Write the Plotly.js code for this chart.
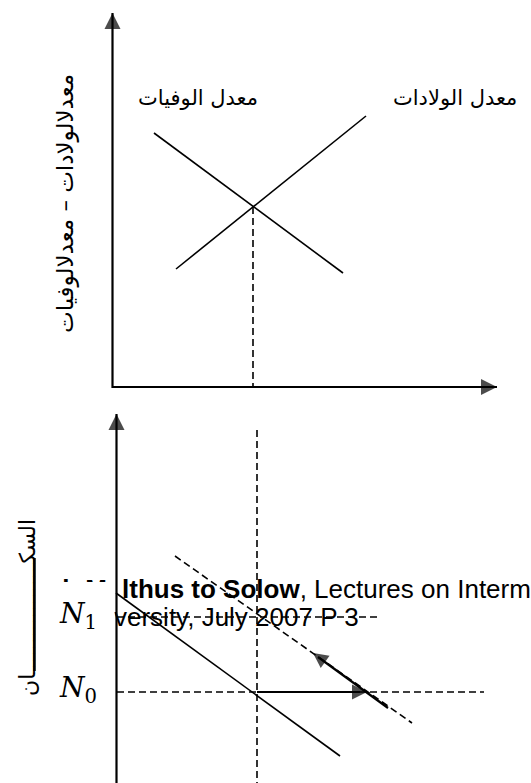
<!DOCTYPE html>
<html>
<head>
<meta charset="utf-8">
<script src="https://cdn.plot.ly/plotly-3.0.1.min.js"></script>
<style>html,body{margin:0;padding:0;background:#fff;}#chart{width:531px;height:783px;}</style>
</head>
<body>
<div id="chart"></div>
<script>
// ---- Data (diagram units on a 531 x 783 grid, y downwards) ----
// Upper panel: birth rate and death rate schedules
const topAxisX = [112.5, 112.5, 497];
const topAxisY = [13, 387, 387];
const deathRateX = [154, 343];
const deathRateY = [133, 273];
const birthRateX = [176, 366];
const birthRateY = [269, 116];
const equilibriumX = [253, 253];
const equilibriumY = [207, 387];

// Lower panel: population
const popAxisX = [116.5, 116.5];
const popAxisY = [414, 783];
const guideVX = [257, 257];
const guideVY = [430, 783];
const n0LineX = [117, 484];
const n0LineY = [692, 692];
const n1LineX = [117, 378];
const n1LineY = [617, 617];
const curveX = [116, 340];
const curveY = [593, 756];
const shiftedX = [175, 412];
const shiftedY = [556, 723];
const shiftArrowX = [257, 360];
const shiftArrowY = [692, 692];
const returnArrowX = [388, 318];
const returnArrowY = [708, 657];

// Arrow heads (tip positions)
const headX = [112.5, 497, 116.5, 497, 367, 313];
const headY = [13, 387, 414, 790, 692, 653];
const headAngle = [0, 90, 0, 90, 90, -54];
const headSize = [16, 16, 16, 16, 15, 15];

// Labels
const deathLabel = 'معدل الوفيات';
const birthLabel = 'معدل الولادات';
const topYTitle = 'معدلالولادات – معدلالوفيات';
const popTitle = 'السكـــــــــــــــــان';
const n1Label = '<i>N</i><sub>1</sub>';
const n0Label = '<i>N</i><sub>0</sub>';
const refLine1Hidden = '<b>h M</b>';
const refLine1 = '<b>lthus to Solow</b>, Lectures on Intermediate Macroeconomics';
const refLine2Hidden = 'Uni';
const refLine2 = 'versity, July 2007 P 3';

const solid = {color: '#000', width: 1.6};
const axisLine = {color: '#000', width: 2.2};
const dashed = {color: '#000', width: 1.6, dash: '7px,4px'};

function seg(x, y, line) {
  return {type: 'scatter', mode: 'lines', x: x, y: y, line: line, hoverinfo: 'skip'};
}
function txt(x, y, t, pos, size) {
  return {type: 'scatter', mode: 'text', x: [x], y: [y], text: [t], textposition: pos,
    textfont: {family: 'Liberation Sans, Arial, sans-serif', size: size, color: '#000'},
    cliponaxis: false, hoverinfo: 'skip'};
}

const traces = [
  // reference text (partly covered by the label box)
  txt(107, 591, refLine1Hidden, 'middle left', 26),
  txt(122, 591, refLine1, 'middle right', 26),
  txt(114, 619.5, refLine2Hidden, 'middle left', 26),
  txt(114, 619.5, refLine2, 'middle right', 26),
  // upper panel
  seg(topAxisX, topAxisY, axisLine),
  seg(deathRateX, deathRateY, solid),
  seg(birthRateX, birthRateY, solid),
  seg(equilibriumX, equilibriumY, dashed),
  // lower panel
  seg(popAxisX, popAxisY, axisLine),
  seg(guideVX, guideVY, dashed),
  seg(n0LineX, n0LineY, dashed),
  seg(n1LineX, n1LineY, dashed),
  seg(curveX, curveY, solid),
  seg(shiftedX, shiftedY, dashed),
  seg(shiftArrowX, shiftArrowY, {color: '#000', width: 2}),
  seg(returnArrowX, returnArrowY, {color: '#000', width: 2.2}),
  {type: 'scatter', mode: 'markers', x: headX, y: headY, cliponaxis: false, hoverinfo: 'skip',
   marker: {symbol: 'arrow-up', size: headSize, angle: headAngle, color: '#000', line: {width: 0}}}
];

const arabicFont = {family: 'DejaVu Sans, sans-serif', color: '#000'};

const layout = {
  width: 531, height: 783,
  margin: {l: 0, r: 0, t: 0, b: 0, pad: 0},
  paper_bgcolor: '#fff', plot_bgcolor: '#fff',
  showlegend: false,
  xaxis: {range: [0, 531], visible: false, fixedrange: true},
  yaxis: {range: [783, 0], visible: false, fixedrange: true},
  shapes: [
    // label box that covers the beginning of the reference lines
    {type: 'rect', layer: 'above', xref: 'x', yref: 'y', x0: 47, x1: 114.5, y0: 582, y1: 712,
     fillcolor: '#fff', line: {width: 0}},
    // stretched kashida stroke of the rotated population label
    {type: 'line', layer: 'below', xref: 'x', yref: 'y', x0: 34.5, x1: 34.5, y0: 558, y1: 671,
     line: {color: '#000', width: 2.4}}
  ],
  annotations: [
    {x: 198, y: 98, xref: 'x', yref: 'y', text: deathLabel, showarrow: false,
     font: Object.assign({size: 21}, arabicFont)},
    {x: 455, y: 98, xref: 'x', yref: 'y', text: birthLabel, showarrow: false,
     font: Object.assign({size: 21}, arabicFont)},
    {x: 65, y: 204, xref: 'x', yref: 'y', text: topYTitle, textangle: -90, showarrow: false,
     font: Object.assign({size: 23}, arabicFont)},
    {x: 27, y: 608, xref: 'x', yref: 'y', text: popTitle, textangle: -90, showarrow: false,
     font: Object.assign({size: 22}, arabicFont)},
    {x: 78, y: 615, xref: 'x', yref: 'y', text: n1Label, showarrow: false,
     font: {family: 'DejaVu Serif, serif', size: 28, color: '#000'}},
    {x: 78, y: 689, xref: 'x', yref: 'y', text: n0Label, showarrow: false,
     font: {family: 'DejaVu Serif, serif', size: 28, color: '#000'}}
  ]
};

Plotly.newPlot('chart', traces, layout, {staticPlot: true, displayModeBar: false});
</script>
</body>
</html>
